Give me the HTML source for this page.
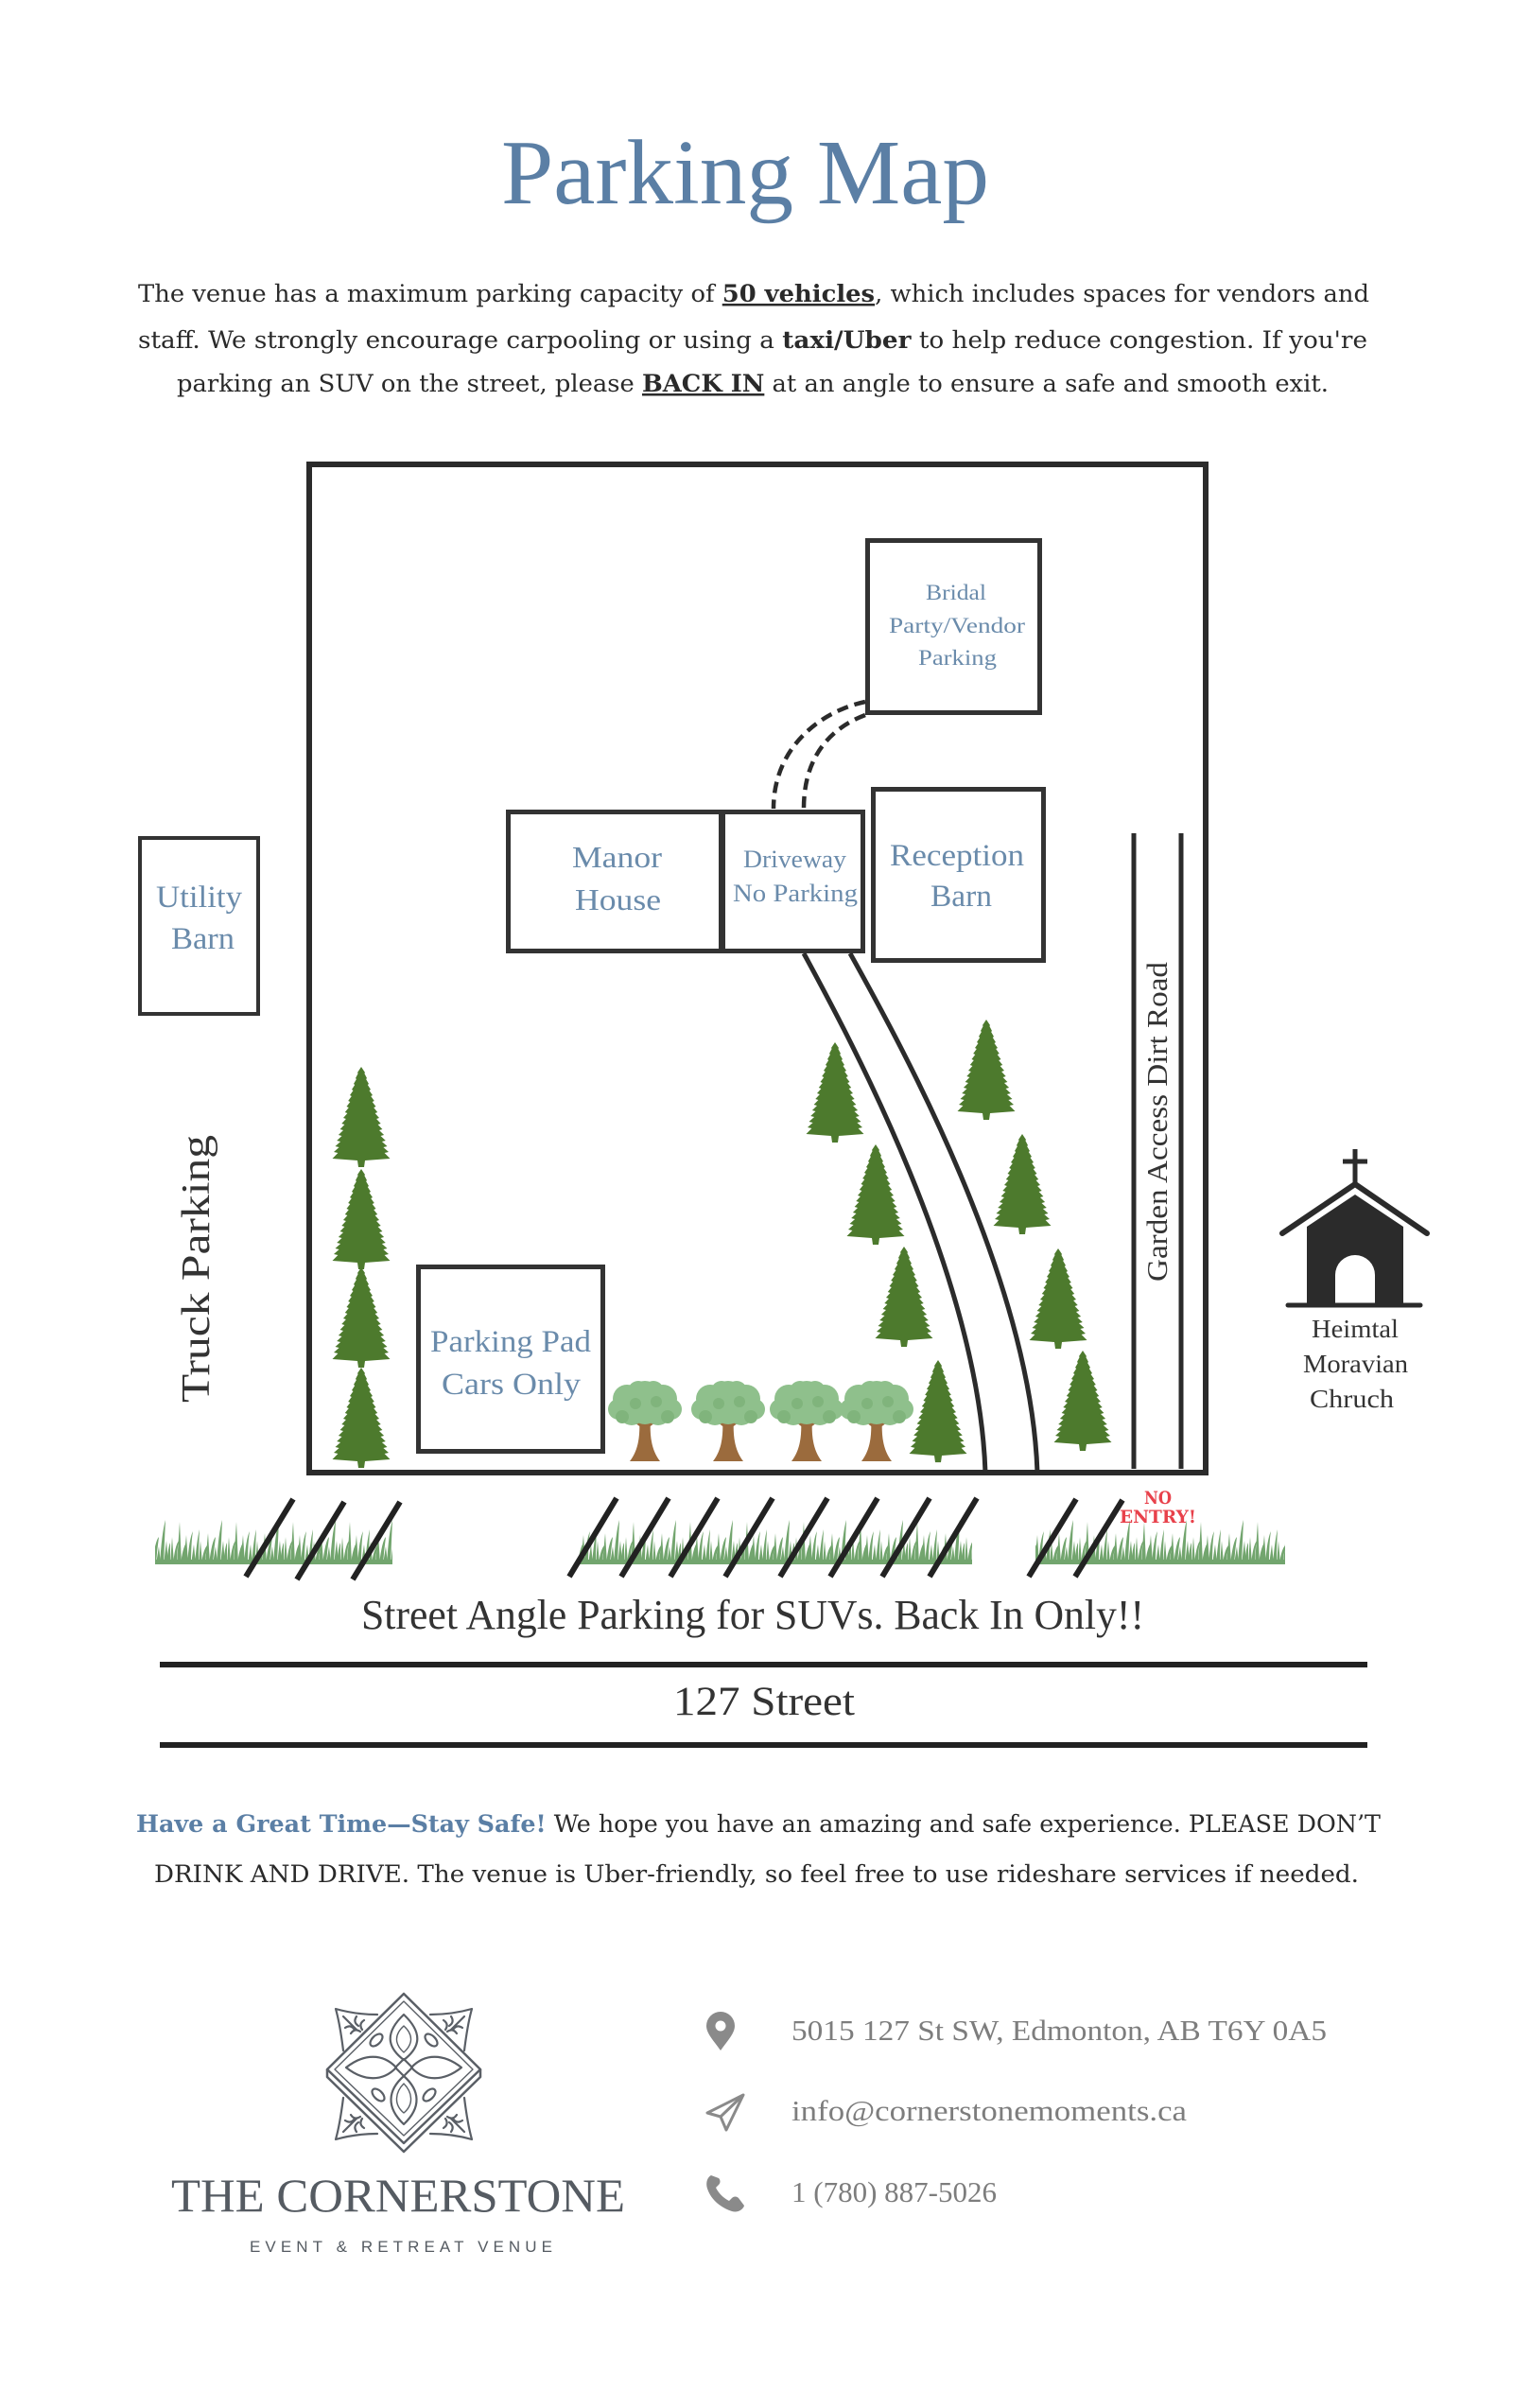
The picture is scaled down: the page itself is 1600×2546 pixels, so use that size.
<!DOCTYPE html>
<html>
<head>
<meta charset="utf-8">
<style>
html,body{margin:0;padding:0;background:#fff;}
svg{display:block;}
</style>
</head>
<body>
<svg width="1600" height="2546" viewBox="0 0 1600 2546" xmlns="http://www.w3.org/2000/svg">
<defs>
  <path id="pine" d="M0,0 L4,6 L3.4,7 L6,12 L5.1,13 L8,18 L6.8,19 L10,24 L8.5,25 L12,30 L10.2,31 L13.8,36 L11.7,37 L15.5,42 L13.2,43 L17.2,48 L14.6,49 L19,54 L16.1,55 L20.7,60 L17.6,61 L22.4,66 L19,67 L24.1,72 L20.5,73 L25.8,78 L21.9,79 L27.5,84 L23.4,85 L29,90 L24.6,91 L30.5,97 L4,99 L3,106 L-3,106 L-4,99 L-30.5,97 L-24.6,91 L-29,90 L-23.4,85 L-27.5,84 L-21.9,79 L-25.8,78 L-20.5,73 L-24.1,72 L-19,67 L-22.4,66 L-17.6,61 L-20.7,60 L-16.1,55 L-19,54 L-14.6,49 L-17.2,48 L-13.2,43 L-15.5,42 L-11.7,37 L-13.8,36 L-10.2,31 L-12,30 L-8.5,25 L-10,24 L-6.8,19 L-8,18 L-5.1,13 L-6,12 L-3.4,7 L-4,6 Z" fill="#4d7a2d"/>
  <g id="decid">
    <path d="M-6,38 C-5,56 -6,72 -16,85 L16,85 C6,72 5,56 6,38 Z" fill="#9b6b3d"/>
    <path d="M-3,50 L-22,36 L-18,33 L-1,44 Z M3,50 L22,36 L18,33 L1,44 Z" fill="#9b6b3d"/>
    <g fill="#8fc08c">
      <circle cx="0" cy="17" r="17"/>
      <circle cx="-19" cy="19" r="15"/>
      <circle cx="19" cy="19" r="15"/>
      <circle cx="-28" cy="30" r="11"/>
      <circle cx="28" cy="30" r="11"/>
      <circle cx="-14" cy="33" r="14"/>
      <circle cx="14" cy="33" r="14"/>
      <circle cx="0" cy="30" r="16"/>
      <circle cx="-7" cy="11" r="11"/>
      <circle cx="9" cy="11" r="11"/>
    </g>
    <g fill="#80b47c">
      <circle cx="-24" cy="38" r="7"/>
      <circle cx="24" cy="38" r="7"/>
      <circle cx="-10" cy="24" r="6"/>
      <circle cx="12" cy="22" r="6"/>
    </g>
  </g>
  <pattern id="grass" patternUnits="userSpaceOnUse" x="0" y="1599" width="60" height="55">
    <g fill="#72a56e">
      <path d="M0,55 L2,26 L4,55 Z"/>
      <path d="M3,55 Q5,35 9,30 Q7,40 7,55 Z"/>
      <path d="M7,55 L10,10 L12,55 Z"/>
      <path d="M11,55 Q13,38 17,32 Q15,42 15,55 Z"/>
      <path d="M14,55 L17,24 L19,55 Z"/>
      <path d="M18,55 Q20,28 24,20 Q22,32 22,55 Z"/>
      <path d="M22,55 L25,34 L27,55 Z"/>
      <path d="M26,55 Q28,30 31,18 Q30,35 30,55 Z"/>
      <path d="M30,55 L32,30 L34,55 Z"/>
      <path d="M33,55 Q35,38 40,34 Q37,44 37,55 Z"/>
      <path d="M37,55 L40,22 L42,55 Z"/>
      <path d="M41,55 Q44,30 48,26 Q46,40 45,55 Z"/>
      <path d="M45,55 L48,36 L50,55 Z"/>
      <path d="M49,55 Q51,22 55,8 Q54,30 53,55 Z"/>
      <path d="M53,55 L56,30 L58,55 Z"/>
      <path d="M56,55 Q58,36 60,32 L60,55 Z"/>
      <rect x="0" y="50" width="60" height="5"/>
    </g>
  </pattern>
  <g id="corner" fill="#fff" stroke="#5a5f66" stroke-width="2.2" stroke-linejoin="round" stroke-linecap="round">
    <path d="M-28,-60 C-44,-60 -58,-62 -72,-66 C-68,-52 -66,-38 -64,-22"/>
    <path d="M-64,-58 L-50,-44" fill="none"/>
    <path d="M-62,-46 q6,-4 10,2 M-50,-58 q-4,6 2,10 M-56,-40 q4,-6 10,-2 M-42,-54 q-6,4 -2,10" fill="none"/>
  </g>
</defs>

<!-- Title -->
<text x="530" y="215" font-family="Liberation Serif, serif" font-size="97" fill="#5b7fa5" textLength="516" lengthAdjust="spacingAndGlyphs">Parking Map</text>

<!-- Intro paragraph -->
<g font-family="DejaVu Serif, serif" font-size="25" fill="#2a2a2a">
  <text x="146" y="319" textLength="1302" lengthAdjust="spacingAndGlyphs">The venue has a maximum parking capacity of <tspan font-weight="bold" style="text-decoration:underline">50 vehicles</tspan>, which includes spaces for vendors and</text>
  <text x="146" y="368" textLength="1300" lengthAdjust="spacingAndGlyphs">staff. We strongly encourage carpooling or using a <tspan font-weight="bold">taxi/Uber</tspan> to help reduce congestion. If you're</text>
  <text x="187" y="414" textLength="1218" lengthAdjust="spacingAndGlyphs">parking an SUV on the street, please <tspan font-weight="bold" style="text-decoration:underline">BACK IN</tspan> at an angle to ensure a safe and smooth exit.</text>
</g>

<!-- Map frame -->
<rect x="327" y="491" width="948" height="1066" fill="none" stroke="#2b2b2b" stroke-width="6"/>

<!-- Buildings -->
<g fill="none" stroke="#333" stroke-width="5">
  <rect x="917.5" y="571.5" width="182" height="182"/>
  <rect x="537.5" y="858.5" width="225" height="147"/>
  <rect x="764.5" y="858.5" width="148" height="147"/>
  <rect x="923.5" y="834.5" width="180" height="181"/>
  <rect x="442.5" y="1339.5" width="195" height="195"/>
</g>
<rect x="148" y="886" width="125" height="186" fill="none" stroke="#333" stroke-width="4"/>

<!-- dashed path to bridal parking -->
<g fill="none" stroke="#2b2b2b" stroke-width="4.5" stroke-dasharray="12 7">
  <path d="M915,742 C868,752 818,790 818,855"/>
  <path d="M915,756 C878,770 850,800 850,855"/>
</g>

<!-- driveway curves -->
<g fill="none" stroke="#2b2b2b" stroke-width="5">
  <path d="M850,1008 C900,1100 1035,1350 1042,1557"/>
  <path d="M899,1008 C950,1100 1090,1350 1097,1557"/>
</g>

<!-- Garden access road -->
<g stroke="#2b2b2b" stroke-width="5">
  <line x1="1199" y1="881" x2="1199" y2="1553"/>
  <line x1="1249" y1="881" x2="1249" y2="1553"/>
</g>

<!-- Map labels -->
<g font-family="Liberation Serif, serif" fill="#6a8bab">
  <text x="979" y="634" font-size="23" textLength="64" lengthAdjust="spacingAndGlyphs">Bridal</text>
  <text x="940" y="669" font-size="23" textLength="144" lengthAdjust="spacingAndGlyphs">Party/Vendor</text>
  <text x="971" y="703" font-size="23" textLength="83" lengthAdjust="spacingAndGlyphs">Parking</text>
  <text x="605" y="917" font-size="32" textLength="95" lengthAdjust="spacingAndGlyphs">Manor</text>
  <text x="608" y="962" font-size="32" textLength="91" lengthAdjust="spacingAndGlyphs">House</text>
  <text x="786" y="917" font-size="26" textLength="109" lengthAdjust="spacingAndGlyphs">Driveway</text>
  <text x="775" y="953" font-size="26" textLength="132" lengthAdjust="spacingAndGlyphs">No Parking</text>
  <text x="941" y="915" font-size="33" textLength="142" lengthAdjust="spacingAndGlyphs">Reception</text>
  <text x="984" y="958" font-size="33" textLength="65" lengthAdjust="spacingAndGlyphs">Barn</text>
  <text x="165" y="959" font-size="33" textLength="91" lengthAdjust="spacingAndGlyphs">Utility</text>
  <text x="181" y="1003" font-size="33" textLength="67" lengthAdjust="spacingAndGlyphs">Barn</text>
  <text x="455" y="1429" font-size="33" textLength="170" lengthAdjust="spacingAndGlyphs">Parking Pad</text>
  <text x="467" y="1474" font-size="33" textLength="147" lengthAdjust="spacingAndGlyphs">Cars Only</text>
</g>

<text transform="translate(221,1483) rotate(-90)" font-family="Liberation Serif, serif" font-size="42" fill="#333" textLength="283" lengthAdjust="spacingAndGlyphs">Truck Parking</text>
<text transform="translate(1234,1355) rotate(-90)" font-family="Liberation Serif, serif" font-size="31" fill="#333" textLength="338" lengthAdjust="spacingAndGlyphs">Garden Access Dirt Road</text>

<!-- Pine trees -->
<use href="#pine" transform="translate(382,1128)"/>
<use href="#pine" transform="translate(382,1236)"/>
<use href="#pine" transform="translate(382,1340)"/>
<use href="#pine" transform="translate(382,1446)"/>
<use href="#pine" transform="translate(883,1102)"/>
<use href="#pine" transform="translate(926,1210)"/>
<use href="#pine" transform="translate(956,1318)"/>
<use href="#pine" transform="translate(992,1438) scale(1,1.02)"/>
<use href="#pine" transform="translate(1043,1078)"/>
<use href="#pine" transform="translate(1081,1199)"/>
<use href="#pine" transform="translate(1119,1320)"/>
<use href="#pine" transform="translate(1145,1428)"/>

<!-- Deciduous trees -->
<use href="#decid" transform="translate(682,1460)"/>
<use href="#decid" transform="translate(770,1460)"/>
<use href="#decid" transform="translate(853,1460)"/>
<use href="#decid" transform="translate(927,1460)"/>

<!-- Church -->
<g>
  <path d="M1382,1297 L1433,1263 L1484,1297 L1484,1378 L1382,1378 Z" fill="#2b2b2b"/>
  <path d="M1412,1378 L1412,1348 A21,21 0 0 1 1454,1348 L1454,1378 Z" fill="#fff"/>
  <polyline points="1356,1304 1433,1252 1509,1304" fill="none" stroke="#2b2b2b" stroke-width="6" stroke-linecap="round" stroke-linejoin="round"/>
  <line x1="1433" y1="1215" x2="1433" y2="1253" stroke="#2b2b2b" stroke-width="5"/>
  <line x1="1420" y1="1228" x2="1446" y2="1228" stroke="#2b2b2b" stroke-width="5"/>
  <line x1="1362" y1="1380" x2="1502" y2="1380" stroke="#2b2b2b" stroke-width="5" stroke-linecap="round"/>
</g>
<g font-family="Liberation Serif, serif" font-size="27" fill="#333">
  <text x="1387" y="1414" textLength="92" lengthAdjust="spacingAndGlyphs">Heimtal</text>
  <text x="1378" y="1451" textLength="111" lengthAdjust="spacingAndGlyphs">Moravian</text>
  <text x="1385" y="1488" textLength="89" lengthAdjust="spacingAndGlyphs">Chruch</text>
</g>

<!-- Grass -->
<rect x="164" y="1599" width="251" height="55" fill="url(#grass)"/>
<rect x="612" y="1599" width="416" height="55" fill="url(#grass)"/>
<rect x="1095" y="1599" width="264" height="55" fill="url(#grass)"/>

<!-- Slashes -->
<g stroke="#222" stroke-width="6">
  <line x1="310" y1="1585" x2="260" y2="1667"/>
  <line x1="364" y1="1588" x2="314" y2="1670"/>
  <line x1="423" y1="1588" x2="373" y2="1670"/>
  <line x1="652" y1="1584" x2="602" y2="1667"/>
  <line x1="707" y1="1584" x2="657" y2="1667"/>
  <line x1="759" y1="1584" x2="709" y2="1667"/>
  <line x1="817" y1="1584" x2="767" y2="1667"/>
  <line x1="875" y1="1584" x2="825" y2="1667"/>
  <line x1="928" y1="1584" x2="878" y2="1667"/>
  <line x1="983" y1="1584" x2="933" y2="1667"/>
  <line x1="1033" y1="1584" x2="983" y2="1667"/>
  <line x1="1138" y1="1585" x2="1088" y2="1667"/>
  <line x1="1187" y1="1586" x2="1137" y2="1667"/>
</g>

<!-- No entry -->
<g font-family="DejaVu Serif, serif" font-weight="bold" font-size="19" fill="#e8414b">
  <text x="1210" y="1590" textLength="29" lengthAdjust="spacingAndGlyphs">NO</text>
  <text x="1184" y="1610" textLength="81" lengthAdjust="spacingAndGlyphs">ENTRY!</text>
</g>

<!-- Street -->
<text x="382" y="1722" font-family="Liberation Serif, serif" font-size="44" fill="#333" textLength="828" lengthAdjust="spacingAndGlyphs">Street Angle Parking for SUVs. Back In Only!!</text>
<line x1="169" y1="1760" x2="1446" y2="1760" stroke="#222" stroke-width="6"/>
<text x="712" y="1813" font-family="Liberation Serif, serif" font-size="43" fill="#333" textLength="192" lengthAdjust="spacingAndGlyphs">127 Street</text>
<line x1="169" y1="1845" x2="1446" y2="1845" stroke="#222" stroke-width="6"/>

<!-- Closing paragraph -->
<g font-family="DejaVu Serif, serif" font-size="25" fill="#2a2a2a">
  <text x="144" y="1937" textLength="1316" lengthAdjust="spacingAndGlyphs"><tspan font-weight="bold" fill="#5b7fa5">Have a Great Time—Stay Safe!</tspan> We hope you have an amazing and safe experience. PLEASE DON’T</text>
  <text x="163" y="1990" textLength="1274" lengthAdjust="spacingAndGlyphs">DRINK AND DRIVE. The venue is Uber-friendly, so feel free to use rideshare services if needed.</text>
</g>

<!-- Logo -->
<g>
  <use href="#corner" transform="translate(427,2190)"/>
  <use href="#corner" transform="translate(427,2190) scale(-1,1)"/>
  <use href="#corner" transform="translate(427,2196) scale(1,-1)"/>
  <use href="#corner" transform="translate(427,2196) scale(-1,-1)"/>
  <path d="M346,2188 L346,2196 L427,2275 L508,2196 L508,2188" fill="#fff" stroke="#5a5f66" stroke-width="2.5" stroke-linejoin="round"/>
  <path d="M427,2108 L508,2188 L427,2266 L346,2188 Z" fill="#fff" stroke="#5a5f66" stroke-width="2.5" stroke-linejoin="round"/>
  <path d="M427,2116 L500,2188 L427,2258 L354,2188 Z" fill="none" stroke="#5a5f66" stroke-width="1.4" stroke-linejoin="round"/>
  <g fill="none" stroke="#5a5f66" stroke-width="2.2" stroke-linejoin="round">
    <path d="M427,2178 C410,2165 406,2150 427,2130 C448,2150 444,2165 427,2178 Z"/>
    <path d="M427,2170 C418,2162 416,2152 427,2142 C438,2152 436,2162 427,2170 Z" stroke-width="1.4"/>
    <path d="M427,2195 C410,2210 408,2228 427,2246 C446,2228 444,2210 427,2195 Z"/>
    <path d="M427,2203 C418,2212 416,2225 427,2234 C438,2225 436,2212 427,2203 Z" stroke-width="1.4"/>
    <path d="M419,2186 C405,2171 385,2171 366,2186 C385,2201 405,2201 419,2186 Z"/>
    <path d="M435,2186 C449,2171 469,2171 488,2186 C469,2201 449,2201 435,2186 Z"/>
    <path d="M427,2177 L436,2186 L427,2195 L418,2186 Z"/>
    <ellipse cx="398" cy="2157" rx="8" ry="4.5" transform="rotate(-45 398 2157)"/>
    <ellipse cx="456" cy="2157" rx="8" ry="4.5" transform="rotate(45 456 2157)"/>
    <ellipse cx="400" cy="2215" rx="8" ry="4.5" transform="rotate(45 400 2215)"/>
    <ellipse cx="454" cy="2215" rx="8" ry="4.5" transform="rotate(-45 454 2215)"/>
  </g>
</g>
<text x="181" y="2338" font-family="Liberation Serif, serif" font-size="50" fill="#555b62" textLength="480" lengthAdjust="spacingAndGlyphs">THE CORNERSTONE</text>
<text x="264" y="2381" font-family="Liberation Sans, sans-serif" font-size="17" fill="#555b62" textLength="320" lengthAdjust="spacing">EVENT &amp; RETREAT VENUE</text>

<!-- Contact -->
<g fill="#8a8a8a">
  <path d="M762,2168 C755,2158 747,2150 747,2142 A15,15 0 0 1 777,2142 C777,2150 769,2158 762,2168 Z"/>
  <circle cx="762" cy="2142" r="5.5" fill="#fff"/>
  <path d="M752,2300 C748,2302 746,2308 748,2314 C752,2326 762,2334 774,2338 C780,2340 786,2336 787,2332 L781,2324 C779,2322 776,2322 774,2324 L771,2327 C765,2324 760,2319 757,2313 L760,2310 C762,2308 762,2305 760,2303 Z"/>
</g>
<g fill="none" stroke="#8a8a8a" stroke-width="3" stroke-linejoin="round">
  <path d="M786,2215 L748,2234 L762,2238 L768,2252 Z"/>
  <path d="M786,2215 L762,2238"/>
</g>
<g font-family="Liberation Serif, serif" font-size="31" fill="#7d7d7d">
  <text x="837" y="2157" textLength="566" lengthAdjust="spacingAndGlyphs">5015 127 St SW, Edmonton, AB T6Y 0A5</text>
  <text x="837" y="2242" textLength="418" lengthAdjust="spacingAndGlyphs">info@cornerstonemoments.ca</text>
  <text x="837" y="2328" textLength="217" lengthAdjust="spacingAndGlyphs">1 (780) 887-5026</text>
</g>
</svg>
</body>
</html>
